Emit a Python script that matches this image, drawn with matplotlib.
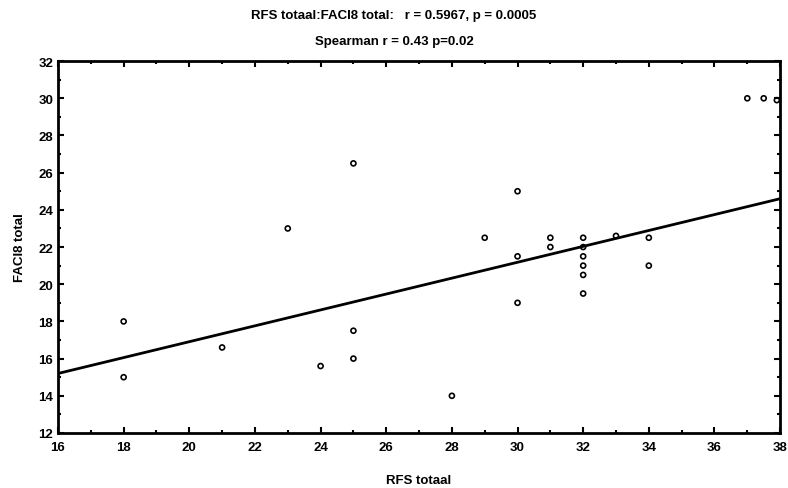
import matplotlib
matplotlib.use("Agg")
import matplotlib.pyplot as plt
from matplotlib.ticker import MultipleLocator

plt.rcParams["font.family"] = ["Liberation Sans", "DejaVu Sans"]

# scatter data
rfs_totaal = [18, 18, 21, 23, 24, 25, 25, 25, 28, 29, 30, 30, 30, 31, 31,
              32, 32, 32, 32, 32, 32, 33, 34, 34, 37, 37.5, 37.9]
faci8_total = [18, 15, 16.6, 23, 15.6, 26.5, 17.5, 16, 14, 22.5, 25, 21.5, 19, 22.5, 22,
               22.5, 22, 21.5, 21, 20.5, 19.5, 22.6, 22.5, 21, 30, 30, 29.9]

# regression line endpoints
fit_x = [16, 38]
fit_y = [15.2, 24.6]

title_1 = "RFS totaal:FACI8 total:   r = 0.5967, p = 0.0005"
title_2 = "Spearman r = 0.43 p=0.02"

fig = plt.figure(figsize=(7.88, 4.89), dpi=100)
ax = fig.add_axes([0.0736, 0.1125, 0.9164, 0.7605])

ax.scatter(rfs_totaal, faci8_total, s=13, facecolors="none", edgecolors="black",
           linewidths=1.2, zorder=3, clip_on=False)
ax.plot(fit_x, fit_y, color="black", linewidth=2.0)

ax.set_xlim(16, 38)
ax.set_ylim(12, 32)
ax.xaxis.set_major_locator(MultipleLocator(2))
ax.xaxis.set_minor_locator(MultipleLocator(1))
ax.yaxis.set_major_locator(MultipleLocator(2))
ax.yaxis.set_minor_locator(MultipleLocator(1))
ax.tick_params(which="both", direction="in", top=True, right=True, width=1.5,
               labelsize=9.5)
ax.tick_params(which="major", length=4)
ax.tick_params(which="minor", length=2.5)
ax.tick_params(axis="x", pad=6)
for lbl in ax.get_xticklabels() + ax.get_yticklabels():
    lbl.set_fontweight("bold")
for sp in ax.spines.values():
    sp.set_linewidth(2.0)

ax.set_xlabel("RFS totaal", fontsize=9.5, fontweight="bold", labelpad=15)
ax.set_ylabel("FACI8 total", fontsize=9.5, fontweight="bold", labelpad=9)

fig.text(0.5, 0.968, title_1, ha="center", va="center", fontsize=9.5, fontweight="bold")
fig.text(0.5, 0.915, title_2, ha="center", va="center", fontsize=9.5, fontweight="bold")

fig.savefig("out.png", dpi=100, facecolor="white")
